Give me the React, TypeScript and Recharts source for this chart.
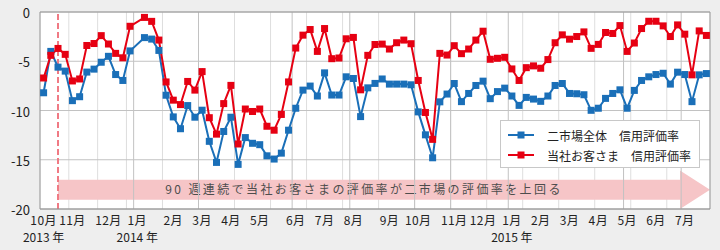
import React from 'react';
import { LineChart, Line, XAxis, YAxis, CartesianGrid, ReferenceLine, ReferenceArea, Legend } from 'recharts';

// Weekly credit-rating rates (index 13 = New Year week, no data)
const blueRate: (number | null)[] = [
  -8.2, -4.0, -5.6, -6.0, -9.0, -8.6, -6.1, -5.8, -5.1, -4.5,
  -6.35, -6.95, -3.95, null, -2.6, -2.75, -3.9, -8.45, -10.65, -11.85,
  -9.5, -10.68, -9.97, -13.13, -15.27, -12.13, -10.68, -15.47, -12.75, -13.33,
  -13.47, -14.6, -14.93, -14.33, -12.0, -9.77, -7.93, -7.52, -8.53, -6.18,
  -8.43, -8.43, -6.58, -6.75, -10.62, -7.7, -7.25, -6.8, -7.32, -7.32,
  -7.32, -7.39, -10.14, -12.47, -14.8, -9.12, -8.33, -7.26, -9.1, -8.27,
  -7.46, -7.02, -8.8, -8.08, -7.73, -8.53, -9.48, -8.67, -8.84, -9.07,
  -8.53, -7.46, -7.26, -8.27, -8.3, -8.4, -9.98, -9.77, -8.77, -8.27,
  -7.9, -9.77, -7.96, -6.95, -6.58, -6.35, -6.22, -7.32, -6.11, -6.35,
  -9.1, -6.38, -6.25,
];
const redRate: (number | null)[] = [
  -6.7, -4.4, -3.7, -4.3, -7.0, -6.8, -3.4, -3.2, -2.4, -3.25,
  -4.2, -4.65, -1.45, null, -0.55, -0.95, -2.85, -7.1, -8.95, -9.4,
  -7.05, -7.93, -6.05, -10.73, -12.4, -9.3, -7.45, -13.4, -9.85, -10.1,
  -9.85, -11.6, -12.0, -10.4, -7.1, -3.66, -2.35, -1.78, -4.0, -1.68,
  -4.74, -4.67, -2.72, -2.58, -7.9, -4.4, -3.3, -3.26, -3.76, -3.12,
  -2.85, -3.22, -6.95, -10.2, -12.93, -4.2, -4.37, -3.42, -4.23, -3.76,
  -2.85, -1.95, -4.8, -4.7, -4.6, -5.78, -6.95, -5.65, -5.47, -5.71,
  -4.83, -3.12, -2.32, -2.76, -2.49, -2.02, -3.69, -3.29, -2.08, -2.18,
  -1.38, -4.0, -3.15, -1.68, -0.94, -0.94, -1.41, -2.49, -1.31, -2.25,
  -6.38, -1.92, -2.38,
];

const monthTicks = [0, 4, 9, 13, 18, 22, 26, 30, 35, 39, 43, 48, 52, 57, 61, 65, 69, 73, 77, 81, 85, 89];
const monthLabels = [
  '10月', '11月', '12月', '1月', '2月', '3月', '4月', '5月', '6月', '7月', '8月',
  '9月', '10月', '11月', '12月', '1月', '2月', '3月', '4月', '5月', '6月', '7月',
];
const yearTicks = [0, 13, 65];
const yearLabels = ['2013 年', '2014 年', '2015 年'];
const yTicks = [-20, -15, -10, -5, 0];
const majorGridAt = [12.5, 21.5, 34.5, 42.5, 51.5, 56.5, 64.5, 80.5, 88.5];
const startWeek = 2;
const seriesNames = ['二市場全体\u3000信用評価率', '当社お客さま\u3000信用評価率'];
const arrowText = '90 週連続で当社お客さまの評価率が二市場の評価率を上回る';

const BLUE = '#1a6fb8';
const RED = '#e60012';
const FONT = '"Noto Sans CJK JP", "Noto Sans", sans-serif';

const data = blueRate.map((b, i) => ({ i, blue: b, red: redRate[i] }));
const domain: [number, number] = [-0.5, data.length - 0.5];
const weekBounds = Array.from({ length: data.length + 1 }, (_, k) => k - 0.5);

const MonthTick = (props: any) => {
  const { x, y, payload } = props;
  const idx = monthTicks.indexOf(payload.value);
  const yi = yearTicks.indexOf(payload.value);
  return (
    <g>
      <text x={x} y={y} dy={16} textAnchor="middle" fontSize={12} letterSpacing={0.4} fill="#222" fontFamily={FONT}>
        {monthLabels[idx]}
      </text>
      {yi >= 0 && (
        <text x={x} y={y} dy={33} textAnchor="middle" fontSize={12} fill="#222" fontFamily={FONT}>
          {yearLabels[yi]}
        </text>
      )}
    </g>
  );
};

const YTick = (props: any) => {
  const { x, y, payload } = props;
  return (
    <text x={x} y={y} dx={-10} dy={6} textAnchor="end" fontSize={13} fill="#222" fontFamily={FONT}>
      {payload.value}
    </text>
  );
};

const ArrowShape = (p: any) => {
  const { x, y, width, height } = p;
  const cy = y + height / 2;
  const head = 30;
  const bodyH = 10;
  const headH = height / 2;
  const x2 = x + width;
  const xb = x2 - head;
  const d = `M${x},${cy - bodyH} L${xb},${cy - bodyH} L${xb},${cy - headH} L${x2},${cy} L${xb},${cy + headH} L${xb},${cy + bodyH} L${x},${cy + bodyH} Z`;
  return (
    <g>
      <path d={d} fill="#f6c5c7" />
      <text x={x + (width - head) / 2 - 5} y={cy} dy={4.5} textAnchor="middle" fontSize={12}
        letterSpacing={2.4} fill="#4d4d4d" fontFamily={FONT}>
        {arrowText}
      </text>
    </g>
  );
};

const makeDot = (color: string) => (p: any) => {
  if (p.value == null || p.cx == null || p.cy == null) return <g key={p.index} />;
  return <rect key={p.index} x={p.cx - 3.5} y={p.cy - 3.5} width={7} height={7} fill={color} />;
};

const LegendBox = () => (
  <div style={{ border: '1px solid #c8c8c8', background: '#fff', width: 198, height: 46, boxSizing: 'content-box', fontFamily: FONT, fontSize: 12, color: '#222' }}>
    {[BLUE, RED].map((c, k) => (
      <div key={k} style={{ display: 'flex', alignItems: 'center', height: 20, marginTop: k === 0 ? 4 : 0 }}>
        <svg width={26} height={10} style={{ marginLeft: 7 }}>
          <line x1={0} y1={5} x2={26} y2={5} stroke={c} strokeWidth={2} />
          <rect x={9.5} y={1.5} width={7} height={7} fill={c} />
        </svg>
        <span style={{ marginLeft: 13, whiteSpace: 'nowrap' }}>{seriesNames[k]}</span>
      </div>
    ))}
  </div>
);

export default function App() {
  return (
    <div style={{ position: 'absolute', left: 0, top: 0, width: 720, height: 250, background: '#eeeeee' }}>
      <LineChart width={720} height={250} data={data} margin={{ top: 12, right: 10, bottom: 0, left: 0 }}>
        <XAxis xAxisId="wk" type="number" dataKey="i" domain={domain} ticks={weekBounds} hide allowDataOverflow />
        <XAxis xAxisId="m" type="number" dataKey="i" domain={domain} ticks={monthTicks} interval={0}
          tick={<MonthTick />} tickLine={false} tickSize={0} tickMargin={0} height={41}
          axisLine={{ stroke: '#8c8c8c' }} allowDataOverflow />
        <YAxis type="number" domain={[-20, 0]} ticks={yTicks} interval={0} width={40} tick={<YTick />}
          tickLine={false} tickSize={0} tickMargin={0} axisLine={{ stroke: '#9a9a9a' }} allowDataOverflow />
        <CartesianGrid xAxisId="wk" horizontal={false} stroke="#dedede" fill="#ffffff" />
        <CartesianGrid xAxisId="m" vertical={false} stroke="#c2c2c2" />
        {majorGridAt.map((v) => (
          <ReferenceLine key={v} xAxisId="m" x={v} stroke="#c2c2c2" />
        ))}
        <ReferenceLine xAxisId="m" y={0} stroke="#9a9a9a" />
        <ReferenceLine xAxisId="m" x={domain[1]} stroke="#9a9a9a" />
        <ReferenceArea xAxisId="m" x1={startWeek} x2={domain[1]} y1={-20} y2={-16.1} shape={ArrowShape} />
        <ReferenceLine xAxisId="m" x={startWeek} stroke="#f07a84" strokeWidth={2} strokeDasharray="6 3" />
        <Line xAxisId="m" type="linear" dataKey="blue" name={seriesNames[0]} stroke={BLUE} strokeWidth={2}
          dot={makeDot(BLUE)} activeDot={false} connectNulls isAnimationActive={false} />
        <Line xAxisId="m" type="linear" dataKey="red" name={seriesNames[1]} stroke={RED} strokeWidth={2}
          dot={makeDot(RED)} activeDot={false} connectNulls isAnimationActive={false} />
        <Legend layout="horizontal" verticalAlign="middle" align="center" content={<LegendBox />}
          wrapperStyle={{ position: 'absolute', left: 500, top: 120, width: 200, height: 48 }} />
      </LineChart>
    </div>
  );
}
